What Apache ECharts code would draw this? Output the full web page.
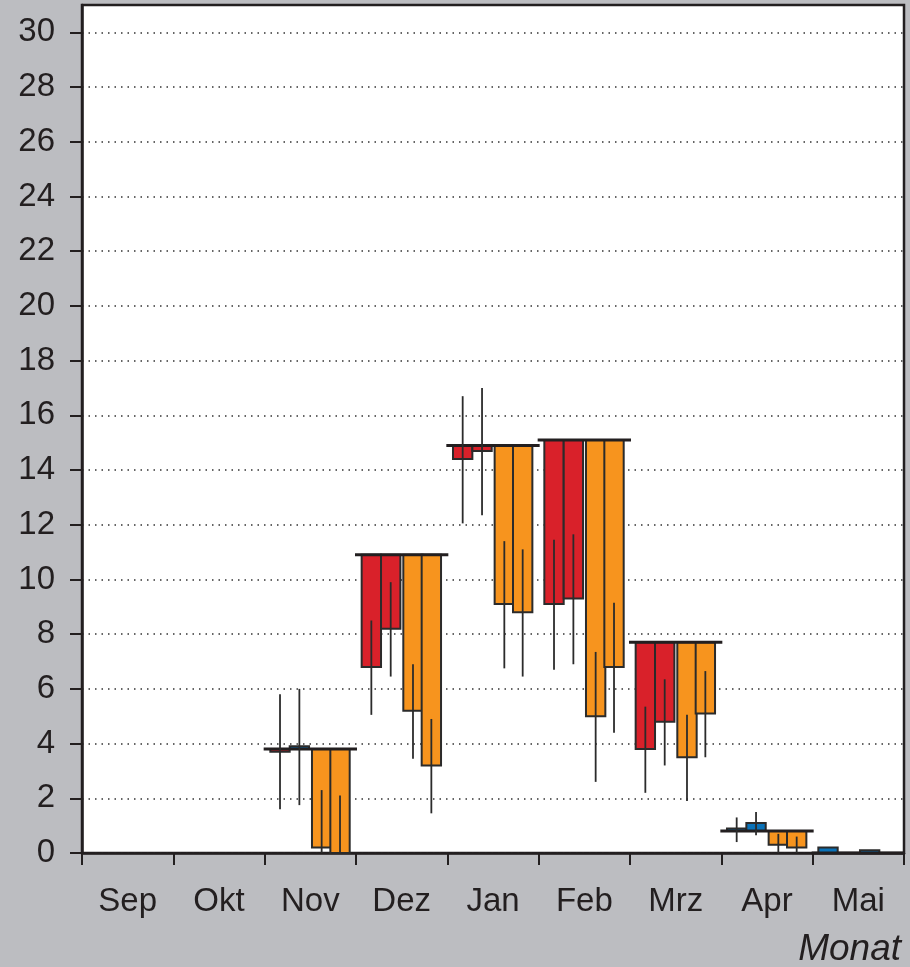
<!DOCTYPE html>
<html><head><meta charset="utf-8">
<script src="https://cdn.jsdelivr.net/npm/echarts@6/dist/echarts.min.js"></script>
<style>html,body{margin:0;padding:0;background:#bcbdc1}#c{width:910px;height:967px}</style>
</head><body><div id="c"></div>
<script>
// ---- data ----
const months = ['Sep', 'Okt', 'Nov', 'Dez', 'Jan', 'Feb', 'Mrz', 'Apr', 'Mai'];
const yTickLabels = [0, 2, 4, 6, 8, 10, 12, 14, 16, 18, 20, 22, 24, 26, 28, 30];
const baseline = [null, null, 3.8, 10.9, 14.9, 15.1, 7.7, 0.8, 0];
const bar1 = [null, null, 3.7, 6.8, 14.4, 9.1, 3.8, 0.9, 0.2];
const bar2 = [null, null, 3.9, 8.2, 14.7, 9.3, 4.8, 1.1, null];
const bar3 = [null, null, 0.2, 5.2, 9.1, 5.0, 3.5, 0.3, 0.1];
const bar4 = [null, null, 0.0, 3.2, 8.8, 6.8, 5.1, 0.2, null];
const err1Low  = [null, null, 1.6, 5.05, 12.05, 6.7, 2.2, 0.4, null];
const err1High = [null, null, 5.8, 8.5, 16.7, 11.45, 5.35, 1.3, null];
const err2Low  = [null, null, 1.75, 6.45, 12.35, 6.9, 3.2, 0.65, null];
const err2High = [null, null, 6.0, 9.9, 17.0, 11.65, 6.35, 1.5, null];
const err3Low  = [null, null, 0, 3.45, 6.75, 2.6, 1.9, 0, null];
const err3High = [null, null, 2.3, 6.9, 11.4, 7.35, 5.05, 0.7, null];
const err4Low  = [null, null, 0, 1.45, 6.45, 4.4, 3.5, 0, null];
const err4High = [null, null, 2.1, 4.9, 11.1, 9.15, 6.65, 0.6, null];

const bars = [bar1, bar2, bar3, bar4];
const errLow = [err1Low, err2Low, err3Low, err4Low];
const errHigh = [err1High, err2High, err3High, err4High];

// ---- styles ----
const RED = '#d9212a', ORANGE = '#f7941e', BLUE = '#0a72b8', INK = '#231f20';
const barStart = [0.062, 0.274, 0.518, 0.719];
const barWidth = 0.212;
const FONT = 'Liberation Sans';

const chart = echarts.init(document.getElementById('c'), null, {renderer: 'canvas'});

function renderItem(params, api) {
  const i = api.value(0);
  const base = baseline[i];
  if (base == null) return null;
  const W = api.size([1, 0])[0];
  const c = api.coord([i, base]);
  const x0 = c[0] - W / 2;
  const children = [];
  for (let k = 0; k < 4; k++) {
    const v = bars[k][i];
    if (v == null) continue;
    const y1 = api.coord([i, v])[1];
    const color = v > base ? BLUE : (k < 2 ? RED : ORANGE);
    children.push({
      type: 'rect',
      shape: {x: x0 + barStart[k] * W, y: Math.min(c[1], y1), width: barWidth * W, height: Math.abs(y1 - c[1])},
      style: {fill: color, stroke: '#2b2b2b', lineWidth: 2}
    });
  }
  children.push({
    type: 'line',
    shape: {x1: x0 - 1, y1: c[1], x2: x0 + W + 1, y2: c[1]},
    style: {stroke: INK, lineWidth: 3}
  });
  for (let k = 0; k < 4; k++) {
    const lo = errLow[k][i], hi = errHigh[k][i];
    if (lo == null || hi == null) continue;
    const xc = x0 + (barStart[k] + barWidth / 2) * W;
    children.push({
      type: 'line',
      shape: {x1: xc, y1: api.coord([i, lo])[1], x2: xc, y2: api.coord([i, hi])[1]},
      style: {stroke: '#2b2b2b', lineWidth: 1.8}
    });
  }
  return {type: 'group', children};
}

chart.setOption({
  backgroundColor: '#bcbdc1',
  animation: false,
  grid: {left: 82, right: 6, top: 5, bottom: 114, show: true, backgroundColor: '#ffffff', borderColor: INK, borderWidth: 2.5},
  xAxis: {
    type: 'category',
    data: months,
    boundaryGap: true,
    axisLine: {lineStyle: {color: INK, width: 2.5}},
    axisTick: {show: true, length: 12, lineStyle: {color: INK, width: 2}},
    axisLabel: {fontSize: 33, fontFamily: FONT, color: INK, margin: 32},
    splitLine: {show: false}
  },
  yAxis: {
    type: 'value',
    min: 0, max: 31, interval: 2,
    axisLine: {show: true, lineStyle: {color: INK, width: 2.5}},
    axisTick: {show: true, length: 12, lineStyle: {color: INK, width: 2}, customValues: yTickLabels},
    axisLabel: {fontSize: 33, fontFamily: FONT, color: INK, margin: 27, customValues: yTickLabels},
    splitLine: {show: true, lineStyle: {color: '#333', width: 1.5, type: [1.5, 5]}}
  },
  graphic: [{
    type: 'text', right: 9, top: 931,
    style: {text: 'Monat', font: 'italic 37px "Liberation Sans"', fill: INK}
  }],
  series: [{
    type: 'custom',
    renderItem: renderItem,
    data: months.map((m, i) => [i]),
    encode: {x: 0},
    z: 5
  }]
});
</script>
</body></html>
